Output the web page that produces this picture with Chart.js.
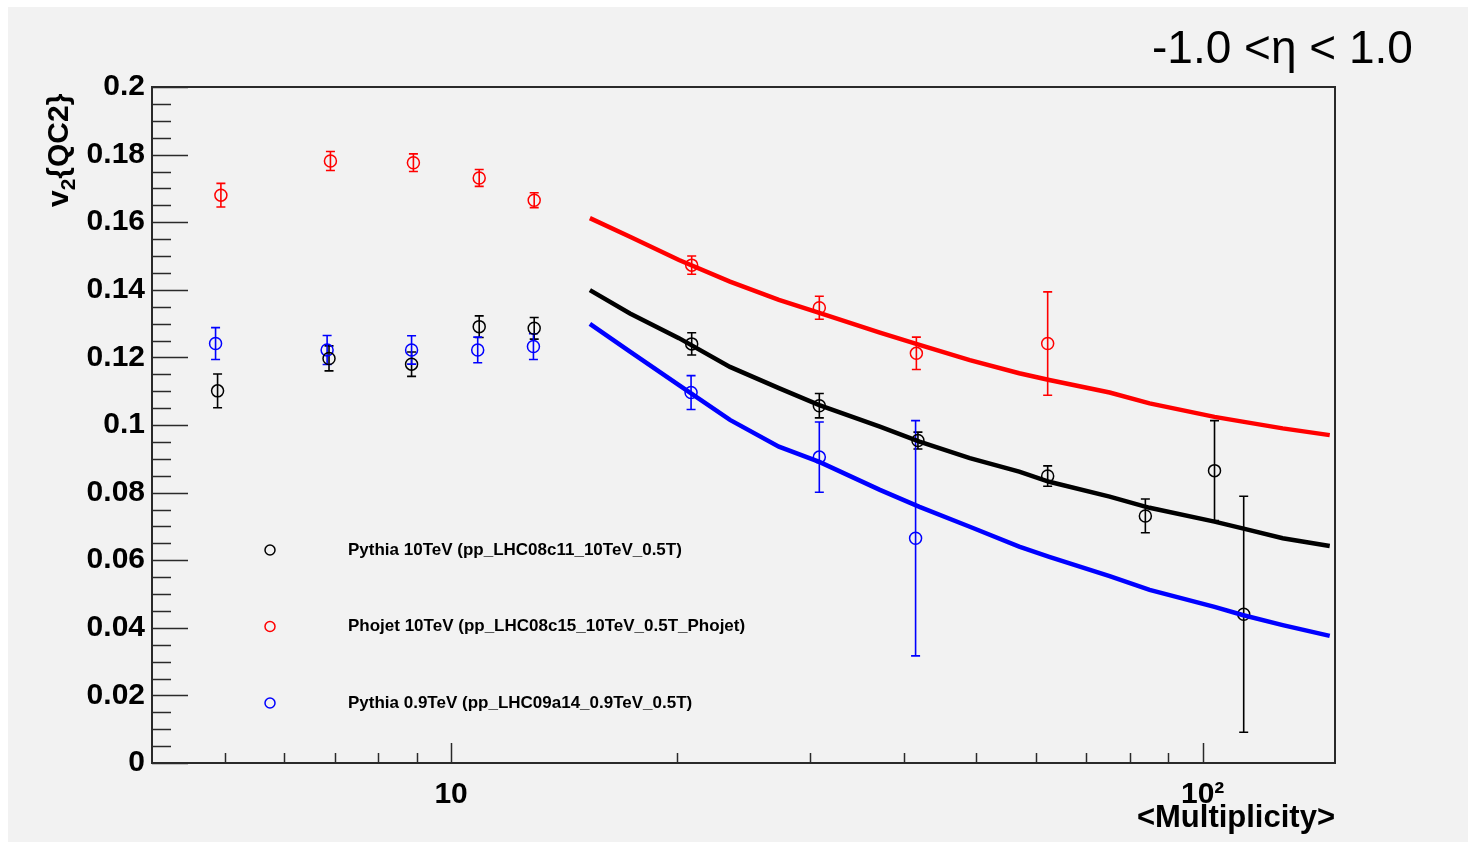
<!DOCTYPE html>
<html lang="en">
<head>
  <meta charset="UTF-8">
  <title>v2{QC2} vs multiplicity</title>
  <script src="https://cdn.jsdelivr.net/npm/chart.js"></script>
  <style>
    body {
      margin: 0;
      background: #fff;
    }
    canvas {
      display: block;
    }
  </style>
</head>
<body>
  <canvas id="v2Chart" width="1468" height="842"></canvas>

  <script>
    // measured points: <Multiplicity>, v2{QC2}, stat. error
    const phojetX   = [4.94, 6.91, 8.91, 10.9, 12.9, 20.9, 30.9, 41.6, 62.2];
    const phojetV   = [0.1680, 0.1781, 0.1776, 0.1731, 0.1665, 0.1473, 0.1347, 0.1212, 0.1241];
    const phojetErr = [0.0035, 0.0028, 0.0026, 0.0025, 0.0022, 0.0027, 0.0034, 0.0048, 0.0153];

    const pythia10X   = [4.89, 6.88, 8.86, 10.9, 12.9, 20.9, 30.9, 41.8, 62.2, 83.9, 103.7, 113.4];
    const pythia10V   = [0.1101, 0.1197, 0.1180, 0.1291, 0.1286, 0.1240, 0.1057, 0.0954, 0.0849, 0.0731, 0.0865, 0.0440];
    const pythia10Err = [0.0050, 0.0037, 0.0036, 0.0032, 0.0032, 0.0033, 0.0036, 0.0025, 0.0030, 0.0050, 0.0148, 0.0349];

    const pythia09X   = [4.86, 6.84, 8.86, 10.85, 12.87, 20.86, 30.9, 41.5];
    const pythia09V   = [0.1241, 0.1222, 0.1222, 0.1222, 0.1232, 0.1096, 0.0905, 0.0665];
    const pythia09Err = [0.0047, 0.0043, 0.0042, 0.0038, 0.0038, 0.0050, 0.0104, 0.0348];

    // reference curves
    const curveX        = [15.3, 17.3, 20.1, 23.5, 27.3, 30.9, 37.2, 42.0, 49.0, 57.0, 62.5, 75.2, 85.0, 103.7, 113.0, 127.8, 147.6];
    const phojetCurve   = [0.1612, 0.1557, 0.1488, 0.1424, 0.1370, 0.1332, 0.1273, 0.1237, 0.1192, 0.1153, 0.1133, 0.1096, 0.1064, 0.1024, 0.1010, 0.0990, 0.0970];
    const pythia10Curve = [0.1399, 0.1330, 0.1257, 0.1172, 0.1109, 0.1059, 0.0995, 0.0951, 0.0902, 0.0862, 0.0832, 0.0788, 0.0755, 0.0714, 0.0694, 0.0665, 0.0642];
    const pythia09Curve = [0.1299, 0.1217, 0.1118, 0.1015, 0.0936, 0.0891, 0.0808, 0.0758, 0.0699, 0.0640, 0.0610, 0.0553, 0.0512, 0.0462, 0.0438, 0.0408, 0.0376];

    const xTicks = [5, 6, 7, 8, 9, 10, 20, 30, 40, 50, 60, 70, 80, 90, 100];
    const xTickLabels = { 10: '10', 100: '10\u00B2' };

    const legendItems = [
      { label: 'Pythia 10TeV (pp_LHC08c11_10TeV_0.5T)', color: '#000000' },
      { label: 'Phojet 10TeV (pp_LHC08c15_10TeV_0.5T_Phojet)', color: '#ff0000' },
      { label: 'Pythia 0.9TeV (pp_LHC09a14_0.9TeV_0.5T)', color: '#0000ff' }
    ];

    const FONT = "'Liberation Sans', Arial, sans-serif";

    const toPoints = (xs, ys) => xs.map((x, i) => ({ x: x, y: ys[i] }));

    function pointSet(label, xs, ys, errs, color) {
      return {
        label: label,
        data: toPoints(xs, ys),
        errors: errs,
        showLine: false,
        pointStyle: 'circle',
        pointRadius: 6,
        pointBorderWidth: 1.5,
        borderColor: color,
        backgroundColor: 'rgba(0,0,0,0)',
        order: 2
      };
    }

    function curveSet(label, ys, color) {
      return {
        label: label,
        data: toPoints(curveX, ys),
        showLine: true,
        pointRadius: 0,
        borderWidth: 4.5,
        borderColor: color,
        tension: 0,
        order: 1
      };
    }

    // ROOT-like pad: grey background, frame, inward ticks, error bars, legend, labels
    const rootPad = {
      id: 'rootPad',
      beforeDraw(chart) {
        const ctx = chart.ctx;
        ctx.save();
        ctx.fillStyle = '#f2f2f2';
        ctx.fillRect(8, 7, chart.width - 8, chart.height - 7);
        ctx.restore();
      },
      beforeDatasetsDraw(chart) {
        const ctx = chart.ctx;
        const xs = chart.scales.x, ys = chart.scales.y;
        ctx.save();
        ctx.lineWidth = 1.6;
        chart.data.datasets.forEach(ds => {
          if (!ds.errors) return;
          ctx.strokeStyle = ds.borderColor;
          ds.data.forEach((p, i) => {
            const px = xs.getPixelForValue(p.x);
            const y1 = ys.getPixelForValue(p.y + ds.errors[i]);
            const y2 = ys.getPixelForValue(p.y - ds.errors[i]);
            ctx.beginPath();
            ctx.moveTo(px, y1); ctx.lineTo(px, y2);
            ctx.moveTo(px - 4.5, y1); ctx.lineTo(px + 4.5, y1);
            ctx.moveTo(px - 4.5, y2); ctx.lineTo(px + 4.5, y2);
            ctx.stroke();
          });
        });
        ctx.restore();
      },
      afterDatasetsDraw(chart) {
        const ctx = chart.ctx;
        const a = chart.chartArea;
        const xs = chart.scales.x, ys = chart.scales.y;
        ctx.save();
        ctx.strokeStyle = '#2a2a2a';
        ctx.lineWidth = 1.5;
        // y ticks: major every 0.02, minor every 0.005
        ys.ticks.forEach(t => {
          const major = Math.abs(t.value / 0.02 - Math.round(t.value / 0.02)) < 1e-6;
          const py = Math.round(ys.getPixelForValue(t.value)) + 0.5;
          ctx.beginPath();
          ctx.moveTo(a.left, py);
          ctx.lineTo(a.left + (major ? 36 : 19), py);
          ctx.stroke();
        });
        // x ticks: decades long, the rest short
        xs.ticks.forEach(t => {
          const major = t.value === 10 || t.value === 100;
          const px = Math.round(xs.getPixelForValue(t.value)) + 0.5;
          ctx.beginPath();
          ctx.moveTo(px, a.bottom);
          ctx.lineTo(px, a.bottom - (major ? 20 : 10));
          ctx.stroke();
        });
        ctx.lineWidth = 2;
        ctx.strokeRect(a.left, a.top, a.right - a.left, a.bottom - a.top);
        ctx.restore();
      },
      afterDraw(chart) {
        const ctx = chart.ctx;
        const a = chart.chartArea;
        ctx.save();
        ctx.fillStyle = '#000';
        ctx.textBaseline = 'alphabetic';

        // pseudorapidity window
        ctx.font = '46px ' + FONT;
        ctx.textAlign = 'left';
        ctx.fillText('-1.0 <\u03B7 < 1.0', 1152, 63);

        // x title
        ctx.font = 'bold 31px ' + FONT;
        ctx.textAlign = 'right';
        ctx.fillText('<Multiplicity>', a.right, 827);

        // y title with subscript
        ctx.translate(68, a.top + 120);
        ctx.rotate(-Math.PI / 2);
        ctx.textAlign = 'left';
        ctx.font = 'bold 30px ' + FONT;
        ctx.fillText('v', 0, 0);
        let off = ctx.measureText('v').width;
        ctx.font = 'bold 21px ' + FONT;
        ctx.fillText('2', off, 7);
        off += ctx.measureText('2').width;
        ctx.font = 'bold 30px ' + FONT;
        ctx.fillText('{QC2}', off, 0);
        ctx.setTransform(1, 0, 0, 1, 0, 0);

        // legend
        ctx.font = 'bold 17px ' + FONT;
        ctx.textAlign = 'left';
        ctx.textBaseline = 'middle';
        legendItems.forEach((item, i) => {
          const cy = 550 + i * 76.5;
          ctx.strokeStyle = item.color;
          ctx.lineWidth = 1.5;
          ctx.beginPath();
          ctx.arc(270, cy, 5, 0, Math.PI * 2);
          ctx.stroke();
          ctx.fillStyle = '#000';
          ctx.fillText(item.label, 348, cy);
        });
        ctx.restore();
      }
    };

    const ctx = document.getElementById('v2Chart').getContext('2d');
    new Chart(ctx, {
      type: 'scatter',
      data: {
        datasets: [
          curveSet('Phojet 10TeV curve', phojetCurve, '#ff0000'),
          curveSet('Pythia 10TeV curve', pythia10Curve, '#000000'),
          curveSet('Pythia 0.9TeV curve', pythia09Curve, '#0000ff'),
          pointSet(legendItems[0].label, pythia10X, pythia10V, pythia10Err, '#000000'),
          pointSet(legendItems[1].label, phojetX, phojetV, phojetErr, '#ff0000'),
          pointSet(legendItems[2].label, pythia09X, pythia09V, pythia09Err, '#0000ff')
        ]
      },
      options: {
        responsive: false,
        animation: false,
        layout: { padding: { left: 8, top: 87, right: 133, bottom: 0 } },
        plugins: {
          legend: { display: false },
          tooltip: { enabled: false }
        },
        scales: {
          x: {
            type: 'logarithmic',
            min: 4,
            max: 150,
            grid: { display: false, drawTicks: false },
            border: { display: false },
            afterBuildTicks: scale => {
              scale.ticks = xTicks.map(v => ({ value: v }));
            },
            afterFit: scale => { scale.height = 79; },
            ticks: {
              autoSkip: false,
              maxRotation: 0,
              padding: 14,
              color: '#000',
              font: { family: FONT, size: 30, weight: 'bold' },
              callback: v => xTickLabels[v] || ''
            }
          },
          y: {
            min: 0,
            max: 0.2,
            grid: { display: false, drawTicks: false },
            border: { display: false },
            afterFit: scale => { scale.width = 144; },
            ticks: {
              stepSize: 0.005,
              autoSkip: false,
              padding: 7,
              color: '#000',
              font: { family: FONT, size: 30, weight: 'bold' },
              callback: v => {
                const k = v / 0.02;
                if (Math.abs(k - Math.round(k)) > 1e-6) return '';
                return String(+(Math.round(k) * 0.02).toFixed(2));
              }
            }
          }
        }
      },
      plugins: [rootPad]
    });
  </script>
</body>
</html>
